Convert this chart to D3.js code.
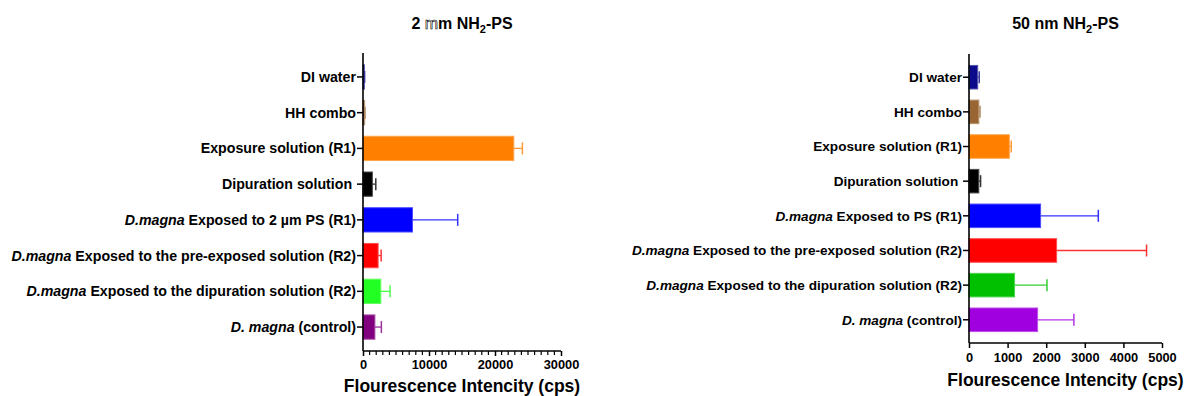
<!DOCTYPE html>
<html><head><meta charset="utf-8">
<script src="https://cdn.jsdelivr.net/npm/d3@7"></script>
<style>
body{margin:0;background:#fff;}
text{font-family:"Liberation Sans",Arial,Helvetica,sans-serif;font-weight:bold;fill:#000;}
</style></head>
<body><svg id="c" width="1184" height="396"></svg>
<script>
// ---- data ----
const categoriesLeft = [
  ["DI water"], ["HH combo"], ["Exposure solution (R1)"], ["Dipuration solution\u00A0"],
  ["*D.magna", " Exposed to 2 µm PS (R1)"],
  ["*D.magna", " Exposed to the pre-exposed solution (R2)"],
  ["*D.magna", " Exposed to the dipuration solution (R2)"],
  ["*D. magna", " (control)"]
];
const categoriesRight = [
  ["DI water"], ["HH combo"], ["Exposure solution (R1)"], ["Dipuration solution\u00A0"],
  ["*D.magna", " Exposed to PS (R1)"],
  ["*D.magna", " Exposed to the pre-exposed solution (R2)"],
  ["*D.magna", " Exposed to the dipuration solution (R2)"],
  ["*D. magna", " (control)"]
];
const meansLeft  = [200, 250, 22850, 1420, 7500, 2290, 2700, 1800];
const sdLeft     = [50, 50, 1300, 520, 6850, 460, 1400, 980];
const meansRight = [225, 255, 1045, 255, 1855, 2270, 1180, 1777];
const sdRight    = [40, 30, 50, 45, 1495, 2330, 840, 940];
const colorsLeft  = ["#0a0a8a","#996633","#ff8000","#000000","#0000ff","#ff0000","#22ff22","#800080"];
const colorsRight = ["#0a0a8a","#996633","#ff8000","#000000","#0000ff","#ff0000","#00c000","#a000e0"];
const ticksLeft  = [0, 10000, 20000, 30000];
const ticksRight = [0, 1000, 2000, 3000, 4000, 5000];
// title pieces: [text, style] — "o" outlined, "s" subscript
const titleLeft = [["2 ",""], ["m","o"], ["m ",""], ["NH",""], ["2","s"], ["-PS",""]];
const titleRight = [["50 nm NH",""], ["2","s"], ["-PS",""]];
const xTitle = "Flourescence Intencity (cps)";

const svg = d3.select("#c");

function panel(o){
  const g = svg.append("g");
  const x = d3.scaleLinear().domain([0, o.max]).range([o.x0, o.x1]);
  const idx = d3.range(o.means.length);
  const y = d3.scaleBand().domain(idx).range([o.y0, o.y1]).paddingInner(0.32).paddingOuter(0.33);
  const bw = y.bandwidth();

  // bars
  g.selectAll("rect.bar").data(idx).join("rect")
    .attr("x", x(0)).attr("y", i => y(i))
    .attr("width", i => x(o.means[i]) - x(0)).attr("height", bw)
    .attr("fill", i => o.colors[i])
    .attr("stroke", i => d3.interpolateRgb(o.colors[i], "#fff")(0.3)).attr("stroke-width", 1);

  // error bars (upper only)
  idx.forEach(i => {
    const c = d3.interpolateRgb(o.colors[i], "#fff")(0.2);
    const cy = y(i) + bw/2;
    const xe = x(o.means[i] + o.sd[i]);
    g.append("line").attr("x1", x(o.means[i])).attr("x2", xe).attr("y1", cy).attr("y2", cy)
      .attr("stroke", c).attr("stroke-width", 1.3);
    g.append("line").attr("x1", xe).attr("x2", xe).attr("y1", cy - 6).attr("y2", cy + 6)
      .attr("stroke", c).attr("stroke-width", 1.5);
  });

  // y axis
  const ya = g.append("g").attr("transform", `translate(${o.x0},0)`)
    .call(d3.axisLeft(y).tickSize(6).tickPadding(1).tickFormat(""));
  ya.select(".domain").attr("stroke-width", 1.6).attr("d", `M0,${o.y0}V${o.y1}`);
  ya.selectAll(".tick line").attr("stroke-width", 1.5);
  ya.selectAll(".tick").each(function(i){
    const t = d3.select(this).append("text").attr("x", -7).attr("dy", "0.35em")
      .attr("text-anchor", "end").attr("font-size", o.catSize).style("white-space","pre");
    o.cats[i].forEach(s => {
      const it = s.startsWith("*");
      t.append("tspan").text(it ? s.slice(1) : s).attr("font-style", it ? "italic" : null);
    });
  });

  // x axis
  const xa = g.append("g").attr("transform", `translate(0,${o.y1})`)
    .call(d3.axisBottom(x).tickValues(o.ticks).tickSize(5).tickPadding(o.pad).tickFormat(d3.format("d")));
  xa.select(".domain").attr("stroke-width", 1.6).attr("d", `M${o.x0},0H${o.x1}`);
  xa.selectAll(".tick line").attr("stroke-width", 1.5);
  xa.selectAll(".tick text").attr("font-size", 12.8);
  if (o.minor) {
    xa.selectAll("line.minor").data(d3.range(0, o.max + 1, o.minor).filter(v => !o.ticks.includes(v)))
      .join("line").attr("class","minor").attr("x1", x).attr("x2", x).attr("y1", 0).attr("y2", 4)
      .attr("stroke", "#000").attr("stroke-width", 1.2);
  }
  // axis title
  g.append("text").attr("x", (o.x0 + o.x1)/2).attr("y", o.titleY).attr("text-anchor","middle")
    .attr("font-size", 17.5).text(xTitle);
  // chart title
  const tt = g.append("text").attr("x", (o.x0 + o.x1)/2).attr("y", 29).attr("text-anchor","middle")
    .attr("font-size", 16).style("white-space","pre");
  let sub = false;
  o.title.forEach(([s, st]) => {
    const sp = tt.append("tspan").text(s);
    if (st === "s") { sp.attr("font-size", 11).attr("dy", 4); sub = true; }
    else if (sub) { sp.attr("dy", -4); sub = false; }
    if (st === "o") sp.style("fill", "#fff").style("stroke", "#000").style("stroke-width", 0.6).attr("font-weight", "normal");
  });
}

panel({x0:363, x1:561, y0:53, y1:351, max:30000, means:meansLeft, sd:sdLeft, colors:colorsLeft,
       cats:categoriesLeft, ticks:ticksLeft, minor:1000, pad:4, titleY:392, title:titleLeft, catSize:14.2});
panel({x0:969, x1:1162, y0:54, y1:343, max:5000, means:meansRight, sd:sdRight, colors:colorsRight,
       cats:categoriesRight, ticks:ticksRight, minor:null, pad:5, titleY:386, title:titleRight, catSize:13.6});
</script></body></html>
